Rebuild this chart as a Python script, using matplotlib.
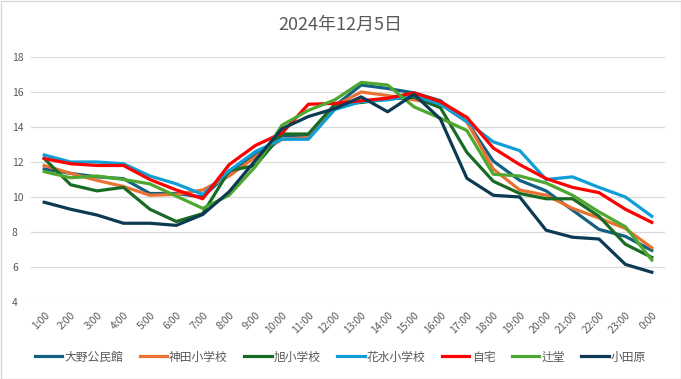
import numpy as np
import matplotlib.pyplot as plt
from matplotlib.patches import Rectangle

plt.rcParams['font.family'] = ['Noto Sans CJK JP', 'DejaVu Sans']

hours = ['1:00', '2:00', '3:00', '4:00', '5:00', '6:00', '7:00', '8:00', '9:00', '10:00',
         '11:00', '12:00', '13:00', '14:00', '15:00', '16:00', '17:00', '18:00', '19:00',
         '20:00', '21:00', '22:00', '23:00', '0:00']

ono = [11.6, 11.35, 11.15, 11.05, 10.2, 10.2, 10.0, 11.4, 12.4, 13.5, 13.5, 15.2,
       16.4, 16.2, 15.95, 15.5, 14.3, 12.05, 10.95, 10.35, 9.25, 8.15, 7.75, 6.95]
kanda = [11.8, 11.35, 10.95, 10.6, 10.1, 10.15, 10.4, 11.2, 12.3, 13.3, 13.4, 15.2,
         16.0, 15.8, 15.55, 15.3, 14.3, 11.6, 10.4, 10.1, 9.35, 8.8, 8.2, 7.1]
asahi = [12.2, 10.7, 10.35, 10.55, 9.3, 8.6, 9.05, 11.5, 11.8, 13.6, 13.6, 15.3,
         15.4, 15.6, 15.7, 15.1, 12.55, 10.9, 10.2, 9.9, 9.9, 8.9, 7.3, 6.55]
hanamizu = [12.4, 12.0, 12.0, 11.9, 11.2, 10.75, 10.15, 11.5, 12.6, 13.3, 13.3, 15.0,
            15.45, 15.55, 15.8, 15.3, 14.3, 13.15, 12.65, 11.0, 11.15, 10.55, 10.0, 8.9]
jitaku = [12.2, 11.9, 11.8, 11.8, 11.0, 10.4, 9.9, 11.85, 12.95, 13.65, 15.3, 15.35,
          15.5, 15.65, 15.95, 15.45, 14.55, 12.8, 11.85, 11.05, 10.55, 10.25, 9.3, 8.55]
tsujido = [11.45, 11.1, 11.2, 11.0, 10.75, 10.05, 9.35, 10.1, 11.75, 14.1, 14.95, 15.55,
           16.55, 16.4, 15.15, 14.5, 13.8, 11.3, 11.2, 10.8, 10.1, 9.15, 8.3, 6.4]
odawara = [9.7, 9.3, 8.97, 8.5, 8.5, 8.38, 9.0, 10.3, 12.1, 13.9, 14.6, 15.05,
           15.72, 14.87, 15.87, 14.45, 11.07, 10.1, 10.0, 8.1, 7.7, 7.6, 6.15, 5.7]

names = ['大野公民館', '神田小学校', '旭小学校', '花水小学校', '自宅', '辻堂', '小田原']
series = [ono, kanda, asahi, hanamizu, jitaku, tsujido, odawara]
colors = ['#156082', '#E97132', '#196B24', '#0F9ED5', '#FF0000', '#4EA72E', '#0C3A52']

fig = plt.figure(figsize=(6.81, 3.79), dpi=100)
ax = fig.add_axes([31/681, 1-302/379, 634/681, 245/379])

x = np.arange(len(hours))
for name, vals, c in zip(names, series, colors):
    ax.plot(x, vals, color=c, lw=2.3, label=name, solid_joinstyle='round')

ax.set_xlim(-0.5, len(hours)-0.5)
ax.set_ylim(4, 18)
ax.set_yticks(range(4, 19, 2))
ax.set_xticks(x)
ax.set_xticklabels(hours, rotation=45, ha='right', rotation_mode='anchor')
ax.tick_params(axis='both', length=0, labelsize=7.5, colors='#595959')
ax.tick_params(axis='y', pad=10)
ax.tick_params(axis='x', pad=6)
for lbl in ax.get_yticklabels():
    lbl.set_horizontalalignment('left')
    lbl.set_x(-0.03)
ax.yaxis.set_tick_params(pad=0)
ax.grid(axis='y', color='#d9d9d9', lw=0.9)
ax.set_axisbelow(True)
for s in ax.spines.values():
    s.set_visible(False)

fig.text(0.5, 1-25/379, '2024年12月5日', ha='center', va='center', fontsize=13, color='#595959')

fig.legend(loc='center', bbox_to_anchor=(0.5, 1-357/379), ncol=7, frameon=False,
           fontsize=8.5, handlelength=2.3, handletextpad=0.2, columnspacing=1.4,
           labelcolor='#595959')

fig.patches.append(Rectangle((0.5/681, 0.5/379), 1-1/681, 1-1/379, transform=fig.transFigure,
                             fill=False, edgecolor='#d9d9d9', lw=1))

fig.savefig('out.png', dpi=100)
